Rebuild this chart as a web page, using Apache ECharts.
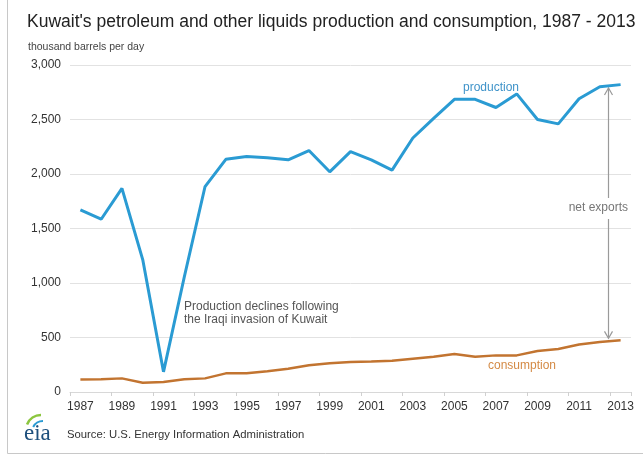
<!DOCTYPE html>
<html>
<head>
<meta charset="utf-8">
<script src="https://cdn.jsdelivr.net/npm/echarts@6/dist/echarts.min.js"></script>
<style>
html,body{margin:0;padding:0;background:#fff;}
#chart{width:643px;height:456px;}
</style>
</head>
<body>
<div id="chart"></div>
<script>
const years = ['1987','1988','1989','1990','1991','1992','1993','1994','1995','1996','1997','1998','1999','2000','2001','2002','2003','2004','2005','2006','2007','2008','2009','2010','2011','2012','2013'];
const production = [1670, 1585, 1868, 1215, 185, 1055, 1885, 2135, 2160, 2150, 2130, 2215, 2020, 2205, 2130, 2035, 2330, 2510, 2685, 2685, 2610, 2735, 2500, 2460, 2690, 2800, 2820];
const consumption = [114, 116, 125, 85, 92, 116, 125, 171, 171, 190, 214, 245, 263, 275, 280, 287, 306, 324, 349, 324, 336, 336, 376, 394, 436, 459, 474];
const yTicks = [0, 500, 1000, 1500, 2000, 2500, 3000];

const FONT = 'Arial, "Liberation Sans", sans-serif';
const chart = echarts.init(document.getElementById('chart'), null, {renderer: 'canvas'});

const option = {
  animation: false,
  backgroundColor: '#fff',
  textStyle: {fontFamily: FONT},
  title: [
    {text: "Kuwait's petroleum and other liquids production and consumption, 1987 - 2013",
     left: 22, top: 8, textStyle: {fontFamily: FONT, fontSize: 17.5, fontWeight: 'normal', color: '#222'}},
    {text: 'thousand barrels per day', left: 23, top: 37,
     textStyle: {fontFamily: FONT, fontSize: 10.5, fontWeight: 'normal', color: '#444'}}
  ],
  grid: {left: 70, right: 12, top: 65, bottom: 64, containLabel: false},
  xAxis: {
    type: 'category', data: years, boundaryGap: true,
    axisLine: {lineStyle: {color: '#d8d8d8'}},
    axisTick: {show: true, length: 4, lineStyle: {color: '#d0d0d0'}},
    axisLabel: {interval: 1, color: '#333', fontSize: 12, margin: 9, fontFamily: FONT}
  },
  yAxis: {
    type: 'value', min: yTicks[0], max: yTicks[yTicks.length - 1], interval: 500,
    axisLine: {show: false}, axisTick: {show: false},
    splitLine: {lineStyle: {color: '#e2e2e2'}},
    axisLabel: {color: '#333', fontSize: 12, margin: 9, fontFamily: FONT,
      formatter: v => v.toLocaleString('en-US')}
  },
  series: [
    {name: 'production', type: 'line', data: production, symbol: 'none',
     lineStyle: {color: '#2a9bd3', width: 3}, z: 3},
    {name: 'consumption', type: 'line', data: consumption, symbol: 'none',
     lineStyle: {color: '#c27430', width: 2.5}, z: 3}
  ]
};
chart.setOption(option);

function px(seriesIndex, idx, val) {
  return chart.convertToPixel({seriesIndex: seriesIndex}, [idx, val]);
}
// arrow between production and consumption, between 2012 and 2013
const f = 0.375;
const i12 = years.indexOf('2012');
const pA = px(0, i12, production[i12]);
const pB = px(0, i12 + 1, production[i12 + 1]);
const ax = Math.round(pA[0] + f * (pB[0] - pA[0])) + 0.5;
const prodY = px(0, i12, production[i12] + f * (production[i12 + 1] - production[i12]))[1];
const consY = px(1, i12, consumption[i12] + f * (consumption[i12 + 1] - consumption[i12]))[1];
const gray = '#9a9a9a';

chart.setOption({
  graphic: [
    // frame lines of the original screenshot
    {type: 'line', shape: {x1: 7.5, y1: 0, x2: 7.5, y2: 453.5}, style: {stroke: '#c8c8c8', lineWidth: 1}},
    {type: 'line', shape: {x1: 7.5, y1: 453.5, x2: 643, y2: 453.5}, style: {stroke: '#c8c8c8', lineWidth: 1}},
    // net exports arrow
    {type: 'line', shape: {x1: ax, y1: prodY + 2, x2: ax, y2: 198}, style: {stroke: gray, lineWidth: 1.2}},
    {type: 'polyline', shape: {points: [[ax - 4, prodY + 9], [ax, prodY + 2], [ax + 4, prodY + 9]]}, style: {stroke: gray, lineWidth: 1.2, fill: null}},
    {type: 'line', shape: {x1: ax, y1: 219, x2: ax, y2: consY - 3}, style: {stroke: gray, lineWidth: 1.2}},
    {type: 'polyline', shape: {points: [[ax - 4, consY - 10], [ax, consY - 3], [ax + 4, consY - 10]]}, style: {stroke: gray, lineWidth: 1.2, fill: null}},
    {type: 'text', x: 628, y: 208, style: {text: 'net exports', fill: '#777', font: '12px ' + FONT, textAlign: 'right', textVerticalAlign: 'middle'}},
    {type: 'text', x: 491, y: 88, style: {text: 'production', fill: '#3f93c9', font: '12px ' + FONT, textAlign: 'center', textVerticalAlign: 'middle'}},
    {type: 'text', x: 522, y: 366, style: {text: 'consumption', fill: '#d48a45', font: '12px ' + FONT, textAlign: 'center', textVerticalAlign: 'middle'}},
    {type: 'text', x: 184, y: 300, style: {text: 'Production declines following\nthe Iraqi invasion of Kuwait', fill: '#555', font: '12px ' + FONT, lineHeight: 13, textAlign: 'left', textVerticalAlign: 'top'}},
    // eia logo
    {type: 'arc', shape: {cx: 41, cy: 430, r: 15, startAngle: Math.PI * 1.12, endAngle: Math.PI * 1.5}, style: {stroke: '#8cc63f', lineWidth: 2.5, fill: null}},
    {type: 'arc', shape: {cx: 43, cy: 432, r: 11, startAngle: Math.PI * 1.15, endAngle: Math.PI * 1.5}, style: {stroke: '#2a9bd3', lineWidth: 2, fill: null}},
    {type: 'text', x: 24, y: 434, style: {text: 'eia', fill: '#1d4f7c', font: '23px "Liberation Serif", "DejaVu Serif", serif', textAlign: 'left', textVerticalAlign: 'middle'}},
    {type: 'text', x: 67, y: 435, style: {text: 'Source: U.S. Energy Information Administration', fill: '#333', font: '11.3px ' + FONT, textAlign: 'left', textVerticalAlign: 'middle'}}
  ]
});
</script>
</body>
</html>
